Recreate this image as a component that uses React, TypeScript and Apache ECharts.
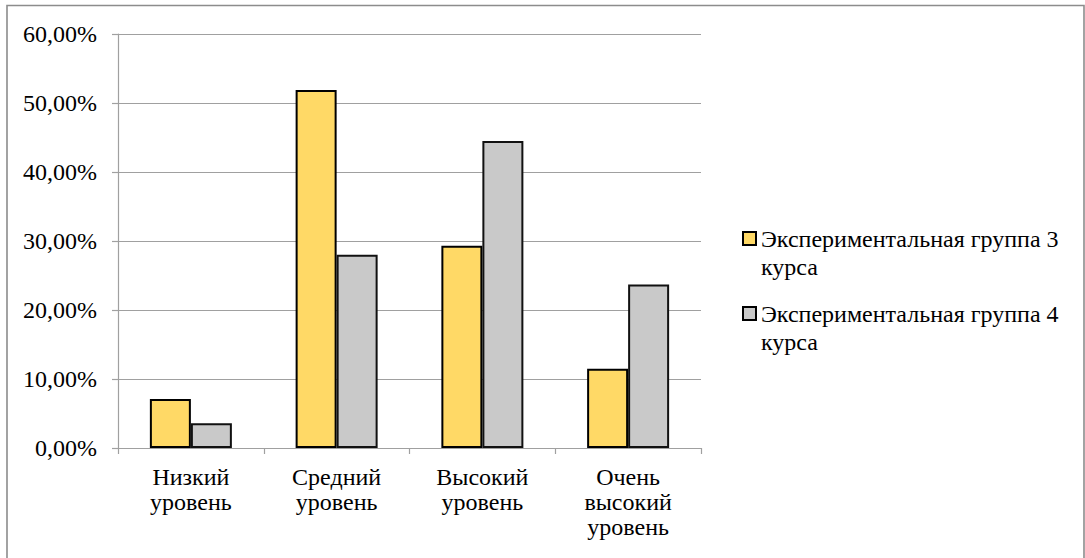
import React, { useEffect, useRef } from 'react';
import * as echarts from 'echarts';

const categories = ['Низкий уровень', 'Средний уровень', 'Высокий уровень', 'Очень высокий уровень'];
const categoryLabels = ['Низкий\nуровень', 'Средний\nуровень', 'Высокий\nуровень', 'Очень\nвысокий\nуровень'];
const seriesNames = ['Экспериментальная группа 3 курса', 'Экспериментальная группа 4 курса'];
const group3Values = [7.1, 51.9, 29.3, 11.5];
const group4Values = [3.6, 28.0, 44.5, 23.7];
const yMin = 0;
const yMax = 60;
const yStep = 10;

const FONT = 'Liberation Serif';
const FS = 24;
const COLORS = ['#FFD966', '#C9C9C9'];

export default function App() {
  const ref = useRef<HTMLDivElement>(null);

  useEffect(() => {
    if (!ref.current) return;
    const chart = echarts.init(ref.current, undefined, { renderer: 'svg' });
    const labelMap: Record<string, string> = {};
    categories.forEach((c, i) => (labelMap[c] = categoryLabels[i]));

    chart.setOption({
      animation: false,
      backgroundColor: '#ffffff',
      textStyle: { fontFamily: FONT, fontSize: FS },
      graphic: [
        {
          type: 'rect',
          shape: { x: 7, y: 5.5, width: 1077, height: 600 },
          style: { fill: 'none', stroke: '#8c8c8c', lineWidth: 1.6 },
          silent: true,
          z: -1,
        },
      ],
      grid: { left: 118, top: 34, width: 583, height: 414, containLabel: false },
      legend: seriesNames.map((name, i) => ({
        data: [name],
        orient: 'vertical',
        left: 742,
        top: 196.5 + i * 75,
        padding: 0,
        itemWidth: 13,
        itemHeight: 13,
        itemGap: 0,
        icon: 'rect',
        itemStyle: { borderColor: '#000', borderWidth: 2 },
        formatter: (n: string) => '\u00a0\n' + n.replace(' курса', '\nкурса'),
        textStyle: {
          fontFamily: FONT,
          fontSize: FS,
          color: '#000',
          lineHeight: 28,
        },
      })),
      xAxis: {
        type: 'category',
        data: categories,
        axisLine: { show: true, lineStyle: { color: '#a0a0a0', width: 1.2 } },
        axisTick: { show: true, alignWithLabel: false, length: 6, lineStyle: { color: '#a0a0a0', width: 1.2 } },
        axisLabel: {
          interval: 0,
          margin: 16,
          color: '#000',
          fontFamily: FONT,
          fontSize: FS,
          lineHeight: 25,
          formatter: (v: string) => labelMap[v] ?? v,
        },
      },
      yAxis: {
        type: 'value',
        min: yMin,
        max: yMax,
        interval: yStep,
        axisLine: { show: true, lineStyle: { color: '#a0a0a0', width: 1.2 } },
        axisTick: { show: true, length: 6, lineStyle: { color: '#a0a0a0', width: 1.2 } },
        splitLine: { show: true, lineStyle: { color: '#a0a0a0', width: 1.2 } },
        axisLabel: {
          margin: 21,
          color: '#000',
          fontFamily: FONT,
          fontSize: FS,
          formatter: (v: number) => v.toFixed(2).replace('.', ',') + '%',
        },
      },
      series: [
        {
          name: seriesNames[0],
          type: 'bar',
          data: group3Values,
          barWidth: 41,
          barGap: '0%',
          itemStyle: { color: COLORS[0], borderColor: '#000', borderWidth: 2 },
        },
        {
          name: seriesNames[1],
          type: 'bar',
          data: group4Values,
          barWidth: 41,
          barGap: '0%',
          itemStyle: { color: COLORS[1], borderColor: '#111', borderWidth: 2 },
        },
      ],
    });

    return () => chart.dispose();
  }, []);

  return (
    <div
      ref={ref}
      style={{ position: 'absolute', left: 0, top: 0, width: 1085, height: 558 }}
    />
  );
}
